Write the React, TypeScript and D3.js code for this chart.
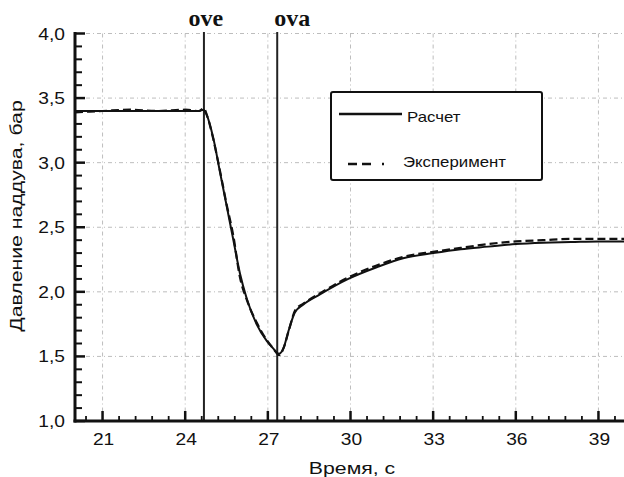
import React from "react";
import * as d3 from "d3";

const timeCalc = [20, 21, 22, 23, 24, 24.5, 24.66, 24.78, 25.02, 25.26, 25.5, 25.74, 25.99, 26.23, 26.59, 26.96, 27.2, 27.4, 27.56, 27.74, 27.98, 28.28, 28.89, 29.92, 30.95, 31.91, 33.0, 34.0, 35.0, 36.0, 37.0, 38.0, 39.0, 40.0];
const pressCalc = [3.4, 3.4, 3.4, 3.4, 3.4, 3.4, 3.41, 3.37, 3.19, 2.93, 2.67, 2.41, 2.14, 1.95, 1.75, 1.62, 1.56, 1.52, 1.56, 1.69, 1.84, 1.9, 1.98, 2.1, 2.19, 2.26, 2.3, 2.33, 2.35, 2.37, 2.38, 2.385, 2.39, 2.39];

const timeExp = [20, 21, 22, 23, 24, 24.5, 24.68, 24.8, 25.0, 25.25, 25.5, 25.75, 25.98, 26.25, 26.6, 26.95, 27.2, 27.42, 27.58, 27.76, 28.0, 28.3, 28.9, 29.9, 30.9, 31.9, 33.0, 34.0, 35.0, 36.0, 37.0, 38.0, 39.0, 40.0];
const pressExp = [3.39, 3.4, 3.41, 3.4, 3.41, 3.4, 3.42, 3.36, 3.2, 2.95, 2.68, 2.43, 2.12, 1.93, 1.76, 1.63, 1.56, 1.51, 1.57, 1.7, 1.86, 1.91, 1.99, 2.11, 2.2, 2.27, 2.31, 2.34, 2.37, 2.39, 2.4, 2.41, 2.41, 2.41];

const xTicks = [21, 24, 27, 30, 33, 36, 39];
const xTickLabels = ["21", "24", "27", "30", "33", "36", "39"];
const yTicks = [1.0, 1.5, 2.0, 2.5, 3.0, 3.5, 4.0];
const yTickLabels = ["1,0", "1,5", "2,0", "2,5", "3,0", "3,5", "4,0"];
const xMinorStep = 0.6;
const yMinorStep = 0.1;

const markerLabels = ["ove", "ova"];
const markerTimes = [24.68, 27.34];

const seriesNames = ["Расчет", "Эксперимент"];

const W = 624;
const H = 477;
const SANS = "'Liberation Sans', Arial, sans-serif";
const SERIF = "'Liberation Serif', 'Times New Roman', serif";

export default function App() {
  const x = d3.scaleLinear().domain([20, 40]).range([75, 626]);
  const y = d3.scaleLinear().domain([1, 4]).range([421, 33.5]);
  const left = 75;
  const bottom = 421;
  const right = W;

  const xMinor = d3.range(20.4, 40, xMinorStep).filter((v) => !xTicks.some((t) => Math.abs(t - v) < 1e-6));
  const yMinor = d3.range(1.1, 4.0, yMinorStep).filter((v) => !yTicks.some((t) => Math.abs(t - v) < 1e-6));

  const line = d3
    .line<[number, number]>()
    .x((d) => x(d[0]))
    .y((d) => y(d[1]))
    .curve(d3.curveMonotoneX);

  const calcPath = line(timeCalc.map((t, i) => [t, pressCalc[i]]) as [number, number][]) || "";
  const expPath = line(timeExp.map((t, i) => [t, pressExp[i]]) as [number, number][]) || "";

  const gridColor = "#bdbdbd";
  const gridDash = "4,3,1,3";
  const sx = 1.2;

  return (
    <svg
      width={W}
      height={H}
      viewBox={`0 0 ${W} ${H}`}
      style={{ position: "absolute", left: 0, top: 0, background: "#fff" }}
    >
      <rect x={0} y={0} width={W} height={H} fill="#fff" />
      {/* grid */}
      {xTicks.map((t) => (
        <line key={"gx" + t} x1={x(t)} x2={x(t)} y1={y(4)} y2={bottom} stroke={gridColor} strokeWidth={1} strokeDasharray={gridDash} />
      ))}
      {yTicks.filter((v) => v > 1).map((v) => (
        <line key={"gy" + v} x1={left} x2={right} y1={y(v)} y2={y(v)} stroke={gridColor} strokeWidth={1} strokeDasharray={gridDash} />
      ))}

      {/* markers */}
      {markerTimes.map((t, i) => (
        <g key={"m" + i}>
          <line x1={x(t)} x2={x(t)} y1={32} y2={bottom} stroke="#222" strokeWidth={2} />
          <text
            x={i === 0 ? x(t) + 2 : x(t) - 3}
            y={26}
            textAnchor={i === 0 ? "middle" : "start"}
            fontFamily={SERIF}
            fontWeight="bold"
            fontSize={24}
            fill="#111"
          >
            {markerLabels[i]}
          </text>
        </g>
      ))}

      {/* data */}
      <path d={expPath} fill="none" stroke="#111" strokeWidth={2.2} strokeDasharray="8,4" />
      <path d={calcPath} fill="none" stroke="#111" strokeWidth={2} />

      {/* legend */}
      <rect x={331} y={92} width={211} height={88} fill="#fff" stroke="#111" strokeWidth={2} rx={2} />
      <line x1={339} x2={402} y1={114} y2={114} stroke="#111" strokeWidth={2.5} />
      <text transform={`translate(407,122) scale(1.2,1)`} fontFamily={SANS} fontSize={14} fill="#111">
        {seriesNames[0]}
      </text>
      <line x1={348} x2={392} y1={164} y2={164} stroke="#111" strokeWidth={2.5} strokeDasharray="9,5,9,11,2" />
      <text transform={`translate(403,167) scale(1.2,1)`} fontFamily={SANS} fontSize={14} fill="#111">
        {seriesNames[1]}
      </text>

      {/* axes */}
      <line x1={left} x2={left} y1={32} y2={bottom + 1.5} stroke="#111" strokeWidth={3} />
      <line x1={left - 1.5} x2={right} y1={bottom} y2={bottom} stroke="#111" strokeWidth={3} />
      {yTicks.map((v) => (
        <line key={"yt" + v} x1={left} x2={left + 10} y1={y(v)} y2={y(v)} stroke="#111" strokeWidth={2.5} />
      ))}
      {yMinor.map((v) => (
        <line key={"ym" + v} x1={left} x2={left + 7} y1={y(v)} y2={y(v)} stroke="#111" strokeWidth={2} />
      ))}
      {xTicks.map((t) => (
        <line key={"xt" + t} x1={x(t)} x2={x(t)} y1={bottom} y2={bottom - 10} stroke="#111" strokeWidth={2.5} />
      ))}
      {xMinor.map((t) => (
        <line key={"xm" + t} x1={x(t)} x2={x(t)} y1={bottom} y2={bottom - 5} stroke="#111" strokeWidth={1.8} />
      ))}

      {/* tick labels */}
      {yTicks.map((v, i) => (
        <text
          key={"yl" + v}
          transform={`translate(65,${y(v) + 6}) scale(${sx},1)`}
          textAnchor="end"
          fontFamily={SANS}
          fontSize={16}
          fill="#111"
        >
          {yTickLabels[i]}
        </text>
      ))}
      {xTicks.map((t, i) => (
        <text
          key={"xl" + t}
          transform={`translate(${x(t) + 1},445) scale(${sx},1)`}
          textAnchor="middle"
          fontFamily={SANS}
          fontSize={16}
          fill="#111"
        >
          {xTickLabels[i]}
        </text>
      ))}

      {/* axis titles */}
      <text transform={`translate(352,474) scale(1.25,1)`} textAnchor="middle" fontFamily={SANS} fontSize={17} fill="#111">
        Время, с
      </text>
      <text transform={`translate(22,216) rotate(-90) scale(1.25,1)`} textAnchor="middle" fontFamily={SANS} fontSize={17} fill="#111">
        Давление наддува, бар
      </text>
    </svg>
  );
}
